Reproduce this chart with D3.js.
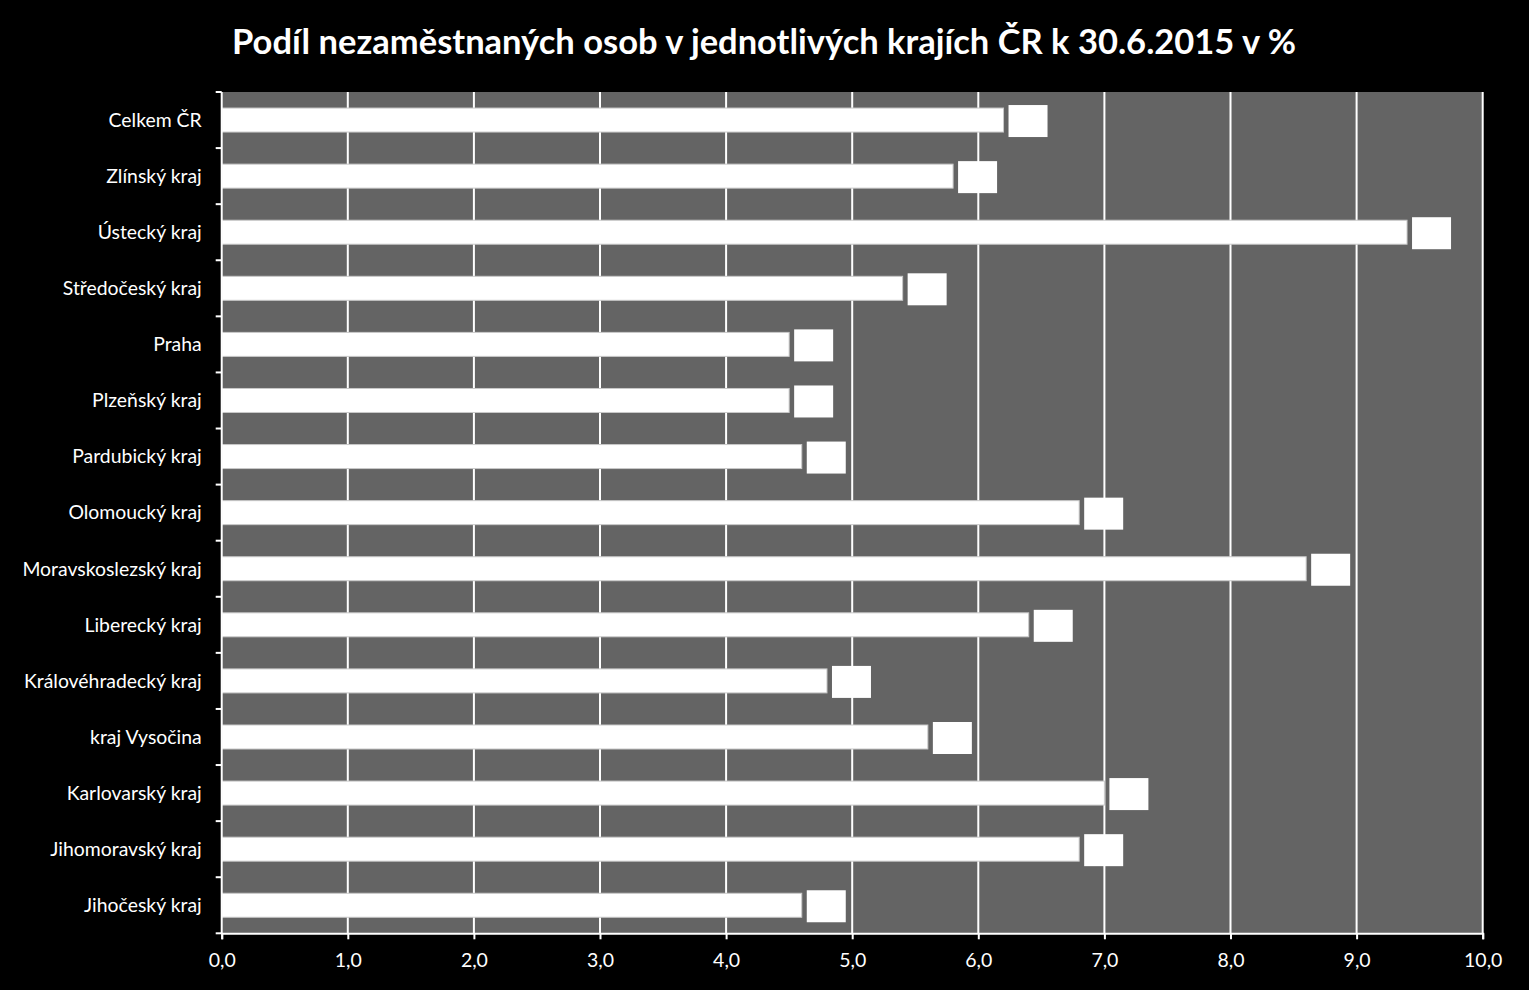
<!DOCTYPE html>
<html>
<head>
<meta charset="utf-8">
<script src="https://cdn.jsdelivr.net/npm/d3@7/dist/d3.min.js"></script>
<style>
  html, body { margin: 0; padding: 0; background: #000; }
  svg { display: block; }
</style>
</head>
<body>
<svg id="chart" width="1529" height="990"></svg>
<script>
const title = "Podíl nezaměstnaných osob v jednotlivých krajích ČR k 30.6.2015 v %";
const categories = [
  "Celkem ČR", "Zlínský kraj", "Ústecký kraj", "Středočeský kraj", "Praha",
  "Plzeňský kraj", "Pardubický kraj", "Olomoucký kraj", "Moravskoslezský kraj",
  "Liberecký kraj", "Královéhradecký kraj", "kraj Vysočina", "Karlovarský kraj",
  "Jihomoravský kraj", "Jihočeský kraj"
];
const values = [6.2, 5.8, 9.4, 5.4, 4.5, 4.5, 4.6, 6.8, 8.6, 6.4, 4.8, 5.6, 7.0, 6.8, 4.6];
const xTicks = [0, 1, 2, 3, 4, 5, 6, 7, 8, 9, 10];

const svg = d3.select("#chart");
const W = 1529, H = 990;
const m = { left: 221.7, right: W - 1482.7, top: 92, bottom: H - 933.3 };

svg.append("rect").attr("width", W).attr("height", H).attr("fill", "#000");

const x = d3.scaleLinear().domain([0, 10]).range([m.left, W - m.right]);
const y = d3.scaleBand().domain(categories).range([m.top, H - m.bottom]).paddingInner(0).paddingOuter(0);

// plot area
svg.append("rect")
  .attr("x", x(0)).attr("y", m.top)
  .attr("width", x(10) - x(0)).attr("height", (H - m.bottom) - m.top)
  .attr("fill", "#646464");

// gridlines
svg.append("g").selectAll("line").data(xTicks.slice(1)).join("line")
  .attr("x1", d => x(d)).attr("x2", d => x(d))
  .attr("y1", m.top).attr("y2", H - m.bottom)
  .attr("stroke", "#fff").attr("stroke-width", 2);

const barH = 24;
const font = "Lato, 'Open Sans', 'DejaVu Sans', sans-serif";

// bars
svg.append("g").selectAll("rect").data(categories).join("rect")
  .attr("x", x(0))
  .attr("y", (d) => y(d) + y.bandwidth() / 2 - barH / 2)
  .attr("width", (d, i) => x(values[i]) - x(0))
  .attr("height", barH)
  .attr("fill", "#fff")
  .attr("stroke", "#c8c8c8").attr("stroke-width", 1);

// data label boxes (white label on white background)
const boxW = 39, boxH = 32, gap = 5;
const lab = svg.append("g").selectAll("g").data(categories).join("g")
  .attr("transform", (d, i) => `translate(${x(values[i]) + gap},${y(d) + y.bandwidth() / 2 - boxH / 2 + 1})`);
lab.append("rect").attr("width", boxW).attr("height", boxH).attr("fill", "#fff");
lab.append("text")
  .attr("x", boxW / 2).attr("y", boxH / 2).attr("dy", "0.35em")
  .attr("text-anchor", "middle")
  .attr("fill", "#fff")
  .style("font-family", font).style("font-size", "18px")
  .text((d, i) => d3.format(".1f")(values[i]).replace(".", ","));

// x axis
const xAxis = d3.axisBottom(x).tickValues(xTicks).tickSize(6).tickPadding(14)
  .tickFormat(d => d3.format(".1f")(d).replace(".", ","));
const gx = svg.append("g").attr("transform", `translate(0,${H - m.bottom})`).call(xAxis);
gx.select(".domain").attr("stroke", "#fff").attr("stroke-width", 2);
gx.selectAll(".tick line").attr("stroke", "#fff").attr("stroke-width", 2);
gx.selectAll(".tick text").attr("fill", "#fff")
  .style("font-family", font).style("font-size", "19.5px");

// y axis: ticks at category boundaries
const gy = svg.append("g");
gy.append("line")
  .attr("x1", x(0)).attr("x2", x(0))
  .attr("y1", m.top).attr("y2", H - m.bottom)
  .attr("stroke", "#fff").attr("stroke-width", 2);
const bounds = categories.map(c => y(c)).concat([H - m.bottom]);
gy.selectAll("line.tk").data(bounds).join("line").attr("class", "tk")
  .attr("x1", x(0) - 6).attr("x2", x(0))
  .attr("y1", d => d).attr("y2", d => d)
  .attr("stroke", "#fff").attr("stroke-width", 2);
gy.selectAll("text").data(categories).join("text")
  .attr("x", x(0) - 20)
  .attr("y", d => y(d) + y.bandwidth() / 2)
  .attr("dy", "0.35em")
  .attr("text-anchor", "end")
  .attr("fill", "#fff")
  .style("font-family", font).style("font-size", "19.4px")
  .text(d => d);

// title
svg.append("text")
  .attr("x", 764).attr("y", 42).attr("dy", "0.35em")
  .attr("text-anchor", "middle")
  .attr("fill", "#fff")
  .style("font-family", font).style("font-size", "34.5px").style("font-weight", "bold")
  .text(title);
</script>
</body>
</html>
